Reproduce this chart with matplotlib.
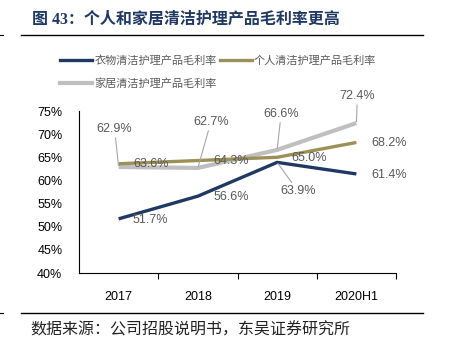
#!/usr/bin/env python3
# -*- coding: utf-8 -*-

import matplotlib
matplotlib.use("Agg")
from matplotlib import pyplot as plt
from matplotlib.lines import Line2D

plt.rcParams['font.family'] = ['Liberation Sans', 'Noto Sans CJK SC', 'DejaVu Sans']

categories = ["2017", "2018", "2019", "2020H1"]
clothing = [51.7, 56.6, 63.9, 61.4]
personal = [63.6, 64.3, 65.0, 68.2]
home = [62.9, 62.7, 66.6, 72.4]
names = ["衣物清洁护理产品毛利率", "个人清洁护理产品毛利率", "家居清洁护理产品毛利率"]
yticks = [40, 45, 50, 55, 60, 65, 70, 75]

title = "图 43：个人和家居清洁护理产品毛利率更高"
source = "数据来源：公司招股说明书，东吴证券研究所"

colors = ["#1f3864", "#9c8f58", "#bfbfbf"]
widths = [2.4, 2.4, 3.0]
label_color = "#595959"
leader_color = "#a6a6a6"

# label offsets in pixels (dx, dy) and whether a leader line is drawn
offsets = [
	[(32, -1), (33, -1), (21, -29), (33, -1)],
	[(32, 0), (33, 0), (32, -1), (33, -1)],
	[(-4, 38), (13, 46), (4, 36), (1, 27)],
]
leaders = [
	[False, False, True, False],
	[False, False, False, False],
	[True, True, True, True],
]

fig = plt.figure(figsize=(4.49, 3.52), dpi=100)
ax = fig.add_axes([79/449, 1 - 273/352, (396-79)/449, (273-111)/352])

x = list(range(len(categories)))
series = [clothing, personal, home]
# draw order: home under personal under clothing
for idx in [2, 1, 0]:
	ax.plot(x, series[idx], color=colors[idx], linewidth=widths[idx],
		solid_capstyle='butt', zorder=3 + (2 - idx))

for idx, vals in enumerate(series):
	for i, v in enumerate(vals):
		dx, dy = offsets[idx][i]
		kw = {}
		if leaders[idx][i]:
			kw['arrowprops'] = dict(arrowstyle='-', color=leader_color, lw=0.8,
						shrinkA=0, shrinkB=1)
		ax.annotate("%.1f%%" % v, xy=(i, v), xytext=(dx, dy),
			textcoords='offset pixels', ha='center', va='center',
			fontsize=9, color=label_color, annotation_clip=False, zorder=6, **kw)

ax.set_xlim(-0.5, len(categories) - 0.5)
ax.set_ylim(40, 75)
ax.set_yticks(yticks)
ax.set_yticklabels(["%d%%" % t for t in yticks], fontsize=9)
ax.set_xticks([i + 0.5 for i in range(len(categories))])
ax.set_xticklabels([])
ax.set_xticks(x, minor=True)
ax.set_xticklabels(categories, minor=True, fontsize=9)
ax.tick_params(axis='x', which='major', direction='out', length=4, width=0.8, color='black')
ax.tick_params(axis='x', which='minor', length=0, pad=13)
ax.tick_params(axis='y', length=0, pad=12)
for side in ['top', 'right']:
	ax.spines[side].set_visible(False)
ax.spines['left'].set_linewidth(0.8)
ax.spines['bottom'].set_linewidth(0.8)

# legend fills column-first, so order it to read row by row
handles = [Line2D([0], [0], color=colors[i], linewidth=widths[i]) for i in range(3)]
order = [0, 2, 1]
leg = fig.legend([handles[i] for i in order], [names[i] for i in order],
	loc='upper left', bbox_to_anchor=(60/449, 1 - 55/352),
	ncol=2, frameon=False, fontsize=8, handlelength=2.9, handletextpad=0.2,
	columnspacing=0.25, borderpad=0, borderaxespad=0, labelspacing=1.1)
for t in leg.get_texts():
	t.set_color(label_color)

fig.text(32/449, 1 - 20/352, title, fontsize=11.5, fontweight='bold', color='#1f3864',
	va='center', ha='left', family=['Liberation Serif', 'Noto Sans CJK SC'])
fig.text(30/449, 1 - 330/352, source, fontsize=11.5, color='#222222',
	va='center', ha='left', family=['Noto Sans CJK SC', 'DejaVu Sans'])

for yy in [35, 313]:
	fig.add_artist(Line2D([21/449, 423/449], [1 - yy/352] * 2, color='black', linewidth=1.0))
	fig.add_artist(Line2D([0, 3/449], [1 - yy/352] * 2, color='black', linewidth=0.8))

fig.savefig("out.png", dpi=100)
